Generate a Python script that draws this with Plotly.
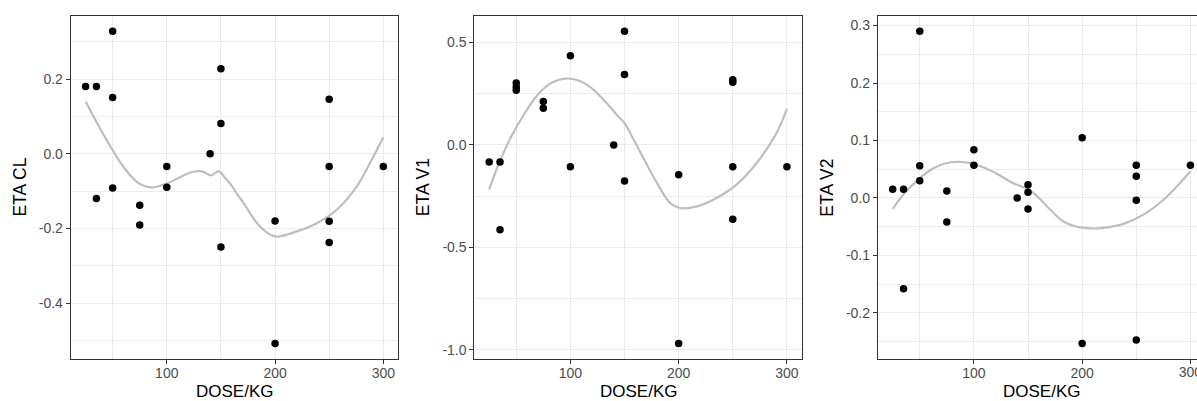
import plotly.graph_objects as go

# ---- data -------------------------------------------------------------
dose = [25, 35, 35, 50, 50, 50, 75, 75, 100, 100, 140,
        150, 150, 150, 200, 200, 250, 250, 250, 250, 300]

eta_cl = [0.180, 0.180, -0.120, 0.328, 0.151, -0.092, -0.138, -0.191,
          -0.034, -0.090, 0.000, 0.228, 0.081, -0.250, -0.180, -0.508,
          0.146, -0.034, -0.181, -0.238, -0.034]
eta_v1 = [-0.083, -0.083, -0.414, 0.303, 0.283, 0.267, 0.212, 0.179,
          0.436, -0.106, 0.000, 0.555, 0.344, -0.176, -0.145, -0.969,
          0.319, 0.306, -0.106, -0.363, -0.106]
eta_v2 = [0.015, 0.015, -0.158, 0.290, 0.056, 0.030, 0.012, -0.042,
          0.084, 0.057, 0.000, 0.023, 0.010, -0.019, 0.105, -0.253,
          0.057, 0.038, -0.004, -0.247, 0.057]

# loess smooth curves (dose grid, fitted value)
smooth_cl_x = [25, 37.4, 49.7, 62, 74.2, 86.5, 98.8, 111, 123.3, 132.5, 141,
               147.8, 154, 159, 166, 171, 183.4, 195.7, 201.8, 220.2, 238.6,
               257, 275.4, 287.7, 300]
smooth_cl_y = [0.140, 0.073, 0.011, -0.043, -0.079, -0.090, -0.081, -0.065,
               -0.049, -0.047, -0.058, -0.047, -0.065, -0.082, -0.112, -0.132,
               -0.186, -0.217, -0.222, -0.208, -0.186, -0.150, -0.088, -0.025,
               0.044]
smooth_v1_x = [25, 33, 45.5, 58, 70, 82.5, 95, 107, 119.5, 132, 144, 150,
               158, 168, 180, 192, 201, 217, 235, 253.5, 272, 290.5, 300]
smooth_v1_y = [-0.218, -0.104, 0.042, 0.156, 0.246, 0.303, 0.324, 0.316,
               0.278, 0.213, 0.140, 0.107, 0.030, -0.070, -0.186,
               -0.283, -0.308, -0.300, -0.259, -0.194, -0.088, 0.059, 0.176]
smooth_v2_x = [25, 36.3, 48.6, 61, 73.2, 85.5, 97.9, 110.2, 122.4, 134.8, 144,
               153.3, 160, 170.4, 182.8, 195.1, 207.3, 219.7, 238.2,
               256.6, 275.1, 287.4, 300]
smooth_v2_y = [-0.019, 0.009, 0.032, 0.050, 0.060, 0.063, 0.060, 0.052, 0.041,
               0.027, 0.020, 0.011, 0.000, -0.020, -0.041, -0.050,
               -0.053, -0.052, -0.045, -0.029, -0.003, 0.020, 0.046]

x_ticks = [100, 200, 300]
x_tick_labels = ["100", "200", "300"]
x_minor = [50, 150, 250]

cl_ticks = [0.2, 0.0, -0.2, -0.4]
cl_tick_labels = ["0.2", "0.0", "-0.2", "-0.4"]
cl_minor = [0.3, 0.1, -0.1, -0.3, -0.5]

v1_ticks = [0.5, 0.0, -0.5, -1.0]
v1_tick_labels = ["0.5", "0.0", "-0.5", "-1.0"]
v1_minor = [0.25, -0.25, -0.75]

v2_ticks = [0.3, 0.2, 0.1, 0.0, -0.1, -0.2]
v2_tick_labels = ["0.3", "0.2", "0.1", "0.0", "-0.1", "-0.2"]
v2_minor = [0.25, 0.15, 0.05, -0.05, -0.15, -0.25]

x_title = "DOSE/KG"
y_titles = ["ETA CL", "ETA V1", "ETA V2"]

# ---- layout geometry (pixels) ----------------------------------------
W, H = 1197, 401
panel_w = 327.5
panel_lefts = [70.7, 474.3, 877.8]
panel_top, panel_bottom = 15.7, 359.0
tick_label_mid = 373.8          # vertical centre of the x tick labels

FONT = "Liberation Sans, Arial, Helvetica, sans-serif"
BORDER = "#333333"
GRID = "#EBEBEB"
TICK_FONT = dict(family=FONT, size=14, color="#4D4D4D")


def expand(vals, mult=0.05):
    lo, hi = min(vals), max(vals)
    pad = (hi - lo) * mult
    return [lo - pad, hi + pad]


x_full = expand(dose)
x_span = x_full[1] - x_full[0]

panels = [
    (eta_cl, smooth_cl_x, smooth_cl_y, cl_ticks, cl_tick_labels, cl_minor),
    (eta_v1, smooth_v1_x, smooth_v1_y, v1_ticks, v1_tick_labels, v1_minor),
    (eta_v2, smooth_v2_x, smooth_v2_y, v2_ticks, v2_tick_labels, v2_minor),
]

fig = go.Figure()
layout = {}
annotations = []
cut_panel = None

for i, (yv, sx, sy, yt, ytl, ym) in enumerate(panels):
    n = "" if i == 0 else str(i + 1)
    left = panel_lefts[i]
    right = left + panel_w
    if right > W:
        # last panel runs past the page edge: show only the visible part
        x_rng = [x_full[0], x_full[0] + x_span * (W - left) / panel_w]
        d1 = 1.0
        cut_panel = (left, x_rng)
    else:
        x_rng = x_full
        d1 = right / W
    d0 = left / W

    fig.add_trace(go.Scatter(
        x=sx, y=sy, mode="lines", xaxis="x" + n, yaxis="y" + n,
        line=dict(color="#BEBEBE", width=2.2, shape="spline", smoothing=1.0),
        hoverinfo="skip", showlegend=False))
    fig.add_trace(go.Scatter(
        x=dose, y=yv, mode="markers", xaxis="x" + n, yaxis="y" + n,
        marker=dict(color="black", size=7.5, line=dict(width=0)),
        showlegend=False))

    layout["xaxis" + n] = dict(
        domain=[d0, d1], range=x_rng, anchor="y" + n,
        tickmode="array", tickvals=x_ticks, ticktext=x_tick_labels,
        ticklabelstandoff=-3,
        showgrid=True, gridcolor=GRID, gridwidth=1.4, zeroline=False,
        minor=dict(tickmode="array", tickvals=x_minor, showgrid=True,
                   gridcolor=GRID, gridwidth=0.7, ticks=""),
        showline=True, linecolor=BORDER, linewidth=1, mirror=True,
        ticks="outside", ticklen=4, tickwidth=1, tickcolor=BORDER,
        tickfont=TICK_FONT,
    )
    layout["yaxis" + n] = dict(
        domain=[1 - panel_bottom / H, 1 - panel_top / H],
        range=expand(yv), anchor="x" + n,
        tickmode="array", tickvals=yt, ticktext=ytl,
        showgrid=True, gridcolor=GRID, gridwidth=1.4, zeroline=False,
        minor=dict(tickmode="array", tickvals=ym, showgrid=True,
                   gridcolor=GRID, gridwidth=0.7, ticks=""),
        showline=True, linecolor=BORDER, linewidth=1,
        mirror=(right <= W),
        ticks="outside", ticklen=4, tickwidth=1, tickcolor=BORDER,
        tickfont=TICK_FONT,
    )

    # axis titles
    annotations.append(dict(
        text=x_title, xref="paper", yref="paper",
        x=(left + panel_w / 2) / W, y=1 - 391.5 / H,
        xanchor="center", yanchor="middle", showarrow=False,
        font=dict(family=FONT, size=17, color="black")))
    annotations.append(dict(
        text=y_titles[i], xref="paper", yref="paper",
        x=(left - 50.5) / W, y=1 - (panel_top + panel_bottom) / 2 / H,
        xanchor="center", yanchor="middle", textangle=-90, showarrow=False,
        font=dict(family=FONT, size=17.5, color="black")))

# Tick labels of the cut panel that straddle the page edge are drawn in a
# hidden strip subplot below it, so they are clipped at the edge.
if cut_panel is not None:
    left, x_rng = cut_panel
    edge_ticks = [(v, t) for v, t in zip(x_ticks, x_tick_labels)
                  if v <= x_rng[1] < v + 15]
    layout["xaxis4"] = dict(domain=[left / W, 1.0], range=x_rng,
                            anchor="y4", visible=False, fixedrange=True)
    layout["yaxis4"] = dict(domain=[0.0, 1 - panel_bottom / H],
                            range=[H, panel_bottom], anchor="x4",
                            visible=False, fixedrange=True)
    fig.add_trace(go.Scatter(
        x=[v for v, _ in edge_ticks],
        y=[tick_label_mid] * len(edge_ticks),
        text=[t for _, t in edge_ticks],
        mode="text", textposition="middle center", textfont=TICK_FONT,
        xaxis="x4", yaxis="y4", cliponaxis=True,
        hoverinfo="skip", showlegend=False))

fig.update_layout(
    **layout,
    annotations=annotations,
    width=W, height=H,
    margin=dict(l=0, r=0, t=0, b=0),
    paper_bgcolor="white", plot_bgcolor="rgba(0,0,0,0)",
    showlegend=False,
)

fig.write_html("out.html")
